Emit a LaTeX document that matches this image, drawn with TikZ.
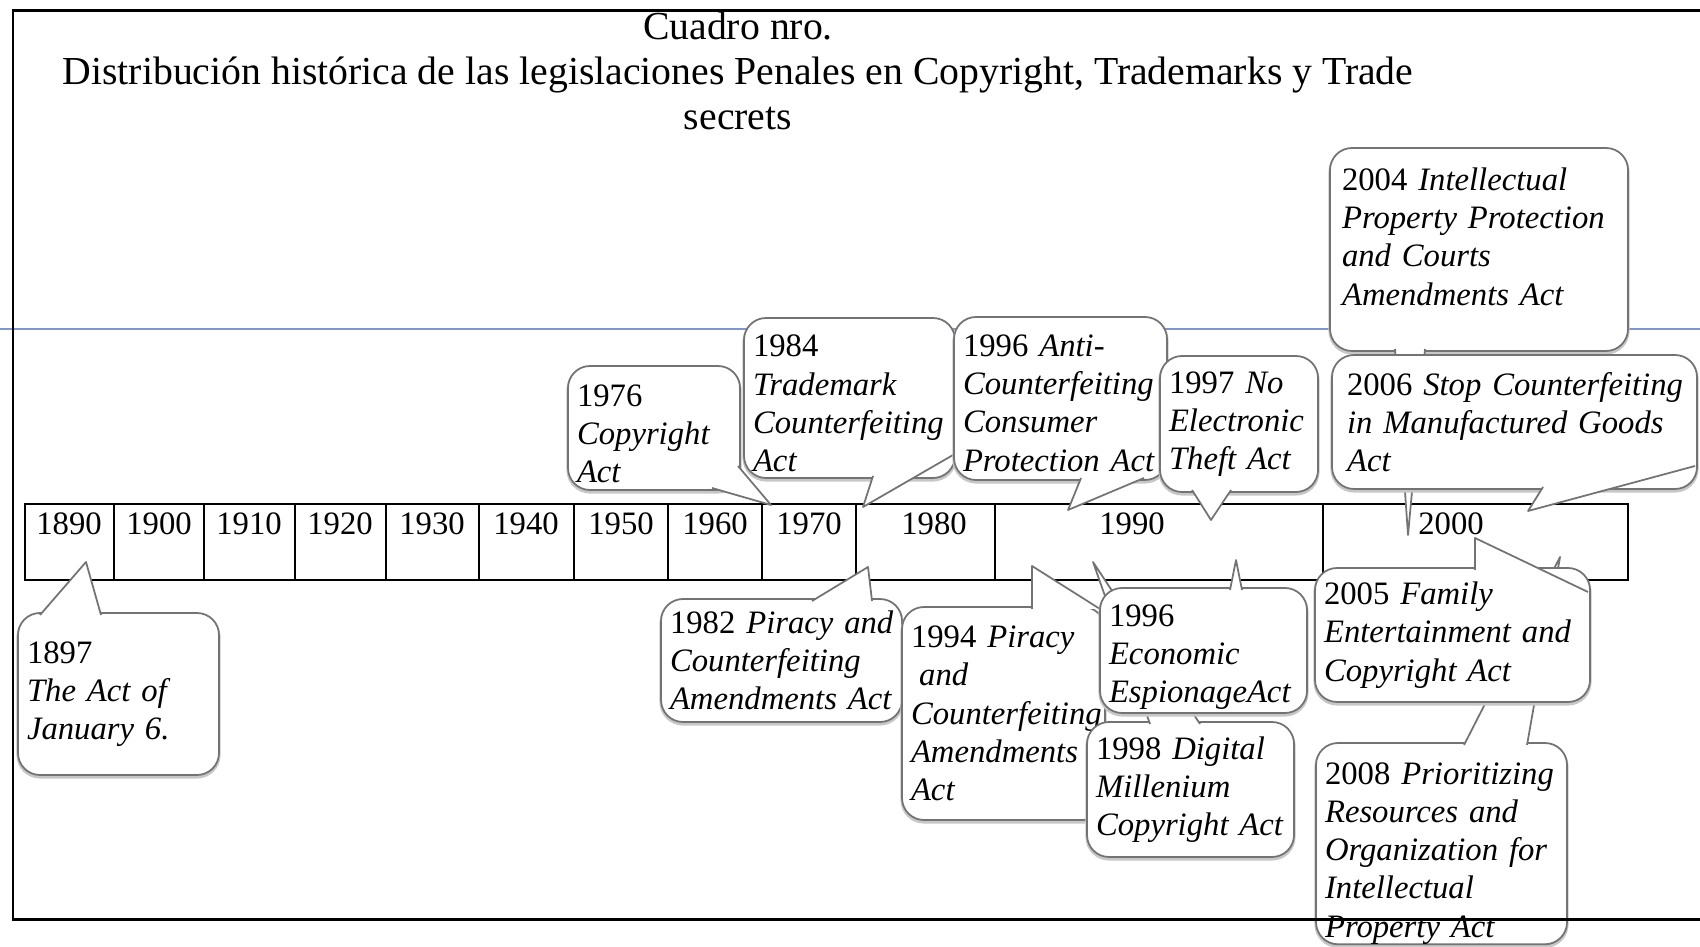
\documentclass[tikz,border=0pt]{standalone}
\usepackage{fontspec}
\setmainfont{Liberation Serif}
\usetikzlibrary{calc}
\definecolor{guide}{RGB}{128,149,206}
\hyphenpenalty=10000
\exhyphenpenalty=10000

\begin{document}
\begin{tikzpicture}[x=0.1mm,y=-0.1mm,
    frame/.style={line width=.85pt},
    cell/.style={line width=.8pt},
    year/.style={font=\fontsize{9.3}{11}\selectfont,anchor=base,inner sep=0pt},
    bubble/.style={draw=black!55,line width=.5pt,fill=white,rounded corners=.22cm,
        inner xsep=.09cm,inner ysep=0pt,outer sep=0pt,align=left,anchor=north west,
        font=\fontsize{9.3}{10.9}\selectfont,
        preaction={draw=black!22,line width=.9pt,transform canvas={yshift=-.02cm}}},
    wedge/.style={draw=black!55,line width=.5pt,fill=white,line join=round}]

        \useasboundingbox (0,0) rectangle (1700,947);

        \draw [guide,line width=.3pt] (0,329) -- (1700,329); % guide line

        % time line

        \draw [cell] (25,504) rectangle (1628,580);
        \draw [cell] (114,504) -- (114,580);
        \draw [cell] (204,504) -- (204,580);
        \draw [cell] (295,504) -- (295,580);
        \draw [cell] (386,504) -- (386,580);
        \draw [cell] (479,504) -- (479,580);
        \draw [cell] (574,504) -- (574,580);
        \draw [cell] (668,504) -- (668,580);
        \draw [cell] (762,504) -- (762,580);
        \draw [cell] (856,504) -- (856,580);
        \draw [cell] (995,504) -- (995,580);
        \draw [cell] (1323,504) -- (1323,580);

        \node [year] (y1890) at (69,535) {1890};
        \node [year] (y1900) at (159,535) {1900};
        \node [year] (y1910) at (249,535) {1910};
        \node [year] (y1920) at (340,535) {1920};
        \node [year] (y1930) at (432,535) {1930};
        \node [year] (y1940) at (526,535) {1940};
        \node [year] (y1950) at (621,535) {1950};
        \node [year] (y1960) at (715,535) {1960};
        \node [year] (y1970) at (809,535) {1970};
        \node [year] (y1980) at (934,535) {1980};
        \node [year] (y1990) at (1132,535) {1990};
        \node [year] (y2000) at (1451,535) {2000};

        % pointer tips

        \coordinate (p1897) at (86,562);
        \coordinate (p1976) at (771,505);
        \coordinate (p1984) at (863,507);
        \coordinate (p1996a) at (1068,510);
        \coordinate (p1997) at (1211,520);
        \coordinate (p2004) at (1408,535);
        \coordinate (p2006) at (1528,511);
        \coordinate (p1982) at (868,567);
        \coordinate (p1994) at (1032,566);
        \coordinate (p1996e) at (1236,560);
        \coordinate (p1998) at (1093,562);
        \coordinate (p2005) at (1475,538);
        \coordinate (p2008) at (1560,557);

        % callouts above

        \node [bubble,text width=2.74cm,minimum height=2.03cm,inner xsep=.12cm] (c2004) at (1330,148)
            {2004 \textit{Intellectual}\\\textit{Property~Protection}\\\textit{and~Courts}\\\textit{Amendments~Act}\rule[-.26cm]{0pt}{0pt}};
        \draw [wedge] ($(c2004.south west)+(65,-2)$) -- (p2004) -- ($(c2004.south west)+(95,-2)$);

        \node [bubble,text width=3.35cm,minimum height=1.34cm,inner xsep=.15cm] (c2006) at (1332,355)
            {2006~\textit{Stop~Counterfeiting}\\\textit{in~Manufactured~Goods}\\\textit{Act}};
        \draw [wedge] ($(c2006.south west)+(211,-2)$) -- (p2006) -- ($(c2006.south east)+(-2,-23)$);

        \node [bubble,text width=1.54cm,minimum height=1.24cm] (c1976) at (568,366)
            {\rule{0pt}{.33cm}1976\\\textit{Copyright}\\\textit{Act}};
        \draw [wedge] ($(c1976.south west)+(144,-2)$) -- (p1976) -- ($(c1976.north east)+(-2,100)$);

        \node [bubble,text width=1.93cm,minimum height=1.60cm] (c1984) at (744,318)
            {\rule{0pt}{.33cm}1984\\\textit{Trademark}\\\textit{Counterfeiting}\\\textit{Act}};
        \draw [wedge] ($(c1984.south west)+(129,-2)$) -- (p1984) -- ($(c1984.south east)+(-2,-23)$);

        \node [bubble,text width=1.95cm,minimum height=1.63cm] (c1996a) at (954,317)
            {\rule{0pt}{.31cm}1996 \textit{Anti-}\\\textit{Counterfeiting}\\\textit{Consumer}\\\textit{Protection~Act}};
        \draw [wedge] ($(c1996a.south west)+(127,-2)$) -- (p1996a) -- ($(c1996a.south east)+(-23,-2)$);

        \node [bubble,text width=1.40cm,minimum height=1.36cm] (c1997) at (1160,356)
            {1997~\textit{No}\\\textit{Electronic}\\\textit{Theft~Act}};
        \draw [wedge] ($(c1997.south west)+(32,-2)$) -- (p1997) -- ($(c1997.south west)+(71,-2)$);

        % callouts below

        \node [bubble,text width=1.83cm,minimum height=1.62cm] (c1897) at (18,613)
            {1897\\\textit{The~Act~of}\\\textit{January~6.}};
        \draw [wedge] ($(c1897.north west)+(22,2)$) -- (p1897) -- ($(c1897.north west)+(83,2)$);

        \node [bubble,text width=2.23cm,minimum height=1.23cm] (c1982) at (661,599)
            {1982~\textit{Piracy~and}\\\textit{Counterfeiting}\\\textit{Amendments~Act}};
        \draw [wedge] ($(c1982.north west)+(151,2)$) -- (p1982) -- ($(c1982.north west)+(211,2)$);

        \node [bubble,text width=1.85cm,minimum height=2.13cm] (c1994) at (902,607)
            {1994~\textit{Piracy}\\\hspace*{.25em}\textit{and}\\\textit{Counterfeiting}\\\textit{Amendments}\\\textit{Act}};
        \draw [wedge] ($(c1994.north west)+(130,2)$) -- (p1994) -- ($(c1994.north east)+(-5,2)$);

        \node [bubble,text width=1.89cm,minimum height=1.35cm] (c1998) at (1087,722)
            {1998~\textit{Digital}\\\textit{Millenium}\\\textit{Copyright~Act}};
        \draw [wedge] ($(c1998.north west)+(63,2)$) -- (p1998) -- ($(c1998.north west)+(113,2)$);

        \node [bubble,text width=1.89cm,minimum height=1.25cm] (c1996e) at (1100,588)
            {\rule{0pt}{.35cm}1996\\\textit{Economic}\\\textit{EspionageAct}};
        \draw [wedge] ($(c1996e.north west)+(130,2)$) -- (p1996e) -- ($(c1996e.north west)+(142,2)$);

        \node [bubble,text width=2.33cm,minimum height=2.01cm] (c2008) at (1316,743)
            {\rule{0pt}{.41cm}2008~\textit{Prioritizing}\\\textit{Resources~and}\\\textit{Organization~for}\\\textit{Intellectual}\\\textit{Property~Act}};
        \draw [wedge] ($(c2008.north west)+(148,2)$) -- (p2008) -- ($(c2008.north west)+(211,2)$);

        \node [bubble,text width=2.57cm,minimum height=1.34cm] (c2005) at (1315,568)
            {2005~\textit{Family}\\\textit{Entertainment~and}\\\textit{Copyright~Act}};
        \draw [wedge] ($(c2005.north west)+(160,2)$) -- (p2005) -- ($(c2005.north east)+(-2,24)$);

        % title

        \node [anchor=north,align=center,inner sep=0pt,font=\fontsize{11.3}{12.8}\selectfont] (title) at (738,11)
            {Cuadro nro.\\Distribución histórica de las legislaciones Penales en Copyright, Trademarks y Trade\\secrets};

        \draw [frame] (1700,11) -- (13,11) -- (13,919) -- (1700,919); % frame

\end{tikzpicture}
\end{document}
